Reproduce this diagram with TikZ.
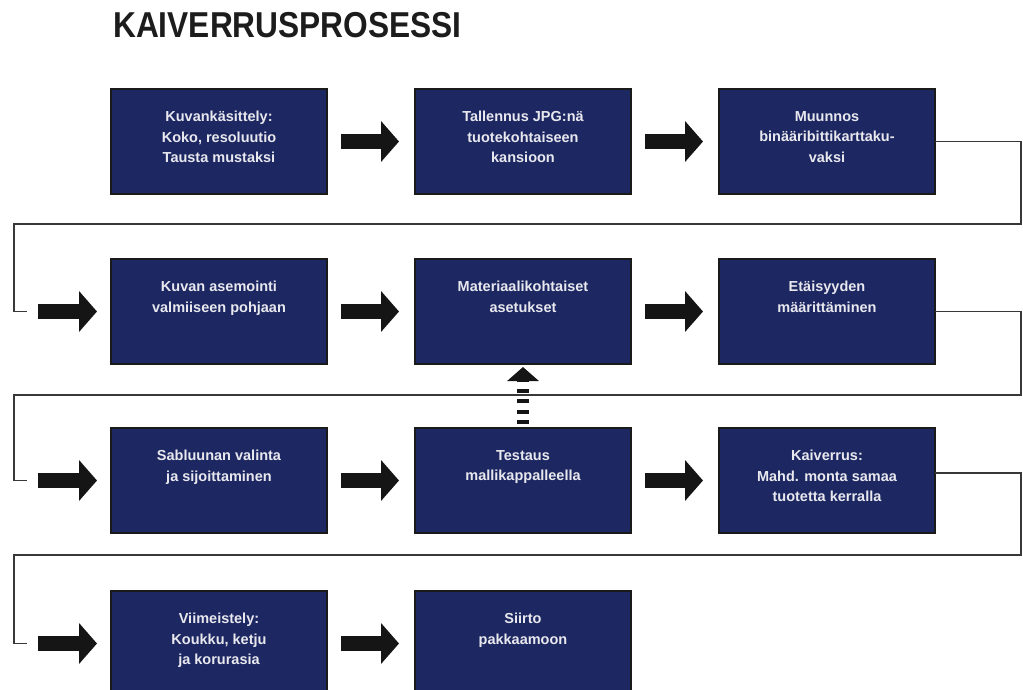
\documentclass[tikz,border=0pt]{standalone}
\usepackage{fontspec}
\setmainfont{Liberation Sans}
\usetikzlibrary{arrows.meta}
\definecolor{navy}{HTML}{1D2862}
\definecolor{boxline}{HTML}{1A1A1A}
\definecolor{boxtxt}{HTML}{E8E8EE}
\definecolor{arrowblack}{HTML}{151515}
\definecolor{wiregray}{HTML}{383838}
\definecolor{titlegray}{HTML}{1C1C1C}

\begin{document}
\begin{tikzpicture}[x=1pt,y=-1pt,
    box/.style={draw=boxline,line width=2pt,fill=navy,minimum width=216pt,minimum height=105pt,inner sep=0pt,outer sep=0pt},
    boxtext/.style={anchor=north,inner sep=0pt,text=boxtxt,align=center,font=\fontsize{14.5}{20.5}\selectfont\bfseries},
    flowarrow/.style={draw=arrowblack,line width=15pt,-{Triangle[length=18pt,width=40pt]}},
    uparrow/.style={draw=arrowblack,line width=12pt,dash pattern=on 4pt off 6.5pt,-{Triangle[length=14pt,width=31pt]}},
    wire/.style={draw=wiregray,line width=1.8pt}]
    \useasboundingbox (0,0) rectangle (1023,689);
    %\draw[very thin,color=gray] (0,0) grid[step=50] (1023,689);
    \node[anchor=west,inner sep=0pt,text=titlegray,font=\fontsize{36}{40}\selectfont\bfseries] (ttl) at (113,25) {\scalebox{0.88}[1]{KAIVERRUSPROSESSI}};

    % boxes
    \node[box] (b1) at (219,141.5) {};
    \node[box] (b2) at (523,141.5) {};
    \node[box] (b3) at (827,141.5) {};
    \node[box] (b4) at (219,311.5) {};
    \node[box] (b5) at (523,311.5) {};
    \node[box] (b6) at (827,311.5) {};
    \node[box] (b7) at (219,480.5) {};
    \node[box] (b8) at (523,480.5) {};
    \node[box] (b9) at (827,480.5) {};
    \node[box] (b10) at (219,643.5) {};
    \node[box] (b11) at (523,643.5) {};

    % texts
    \node[boxtext] (t1) at ([yshift=-22pt]b1.north) {Kuvankäsittely:\\Koko, resoluutio\\Tausta mustaksi};
    \node[boxtext] (t2) at ([yshift=-22pt]b2.north) {Tallennus JPG:nä\\tuotekohtaiseen\\kansioon};
    \node[boxtext] (t3) at ([yshift=-22pt]b3.north) {Muunnos\\binääribittikarttaku-\\vaksi};
    \node[boxtext] (t4) at ([yshift=-22pt]b4.north) {Kuvan asemointi\\valmiiseen pohjaan};
    \node[boxtext] (t5) at ([yshift=-22pt]b5.north) {Materiaalikohtaiset\\asetukset};
    \node[boxtext] (t6) at ([yshift=-22pt]b6.north) {Etäisyyden\\määrittäminen};
    \node[boxtext] (t7) at ([yshift=-22pt]b7.north) {Sabluunan valinta\\ja sijoittaminen};
    \node[boxtext] (t8) at ([yshift=-22pt]b8.north) {Testaus\\mallikappalleella};
    \node[boxtext] (t9) at ([yshift=-22pt]b9.north) {Kaiverrus:\\Mahd. monta samaa\\tuotetta kerralla};
    \node[boxtext] (t10) at ([yshift=-22pt]b10.north) {Viimeistely:\\Koukku, ketju\\ja korurasia};
    \node[boxtext] (t11) at ([yshift=-22pt]b11.north) {Siirto\\pakkaamoon};

    % wires between rows
    \coordinate (e4) at ([xshift=-84pt]b4.west);
    \coordinate (e7) at ([xshift=-84pt]b7.west);
    \coordinate (e10) at ([xshift=-84pt]b10.west);
    \draw[wire] (b3.east) -| (1021,224) -| (14,311.5) -- (e4);
    \draw[wire] (b6.east) -| (1021,395) -| (14,480.5) -- (e7);
    \draw[wire] ([yshift=7.5pt]b9.east) -| (1021,555) -| (14,643.5) -- (e10);

    % arrows
    \draw[flowarrow] ([xshift=14pt]b1.east) -- ([xshift=-16pt]b2.west);
    \draw[flowarrow] ([xshift=14pt]b2.east) -- ([xshift=-16pt]b3.west);
    \draw[flowarrow] ([xshift=-73pt]b4.west) -- ([xshift=-14pt]b4.west);
    \draw[flowarrow] ([xshift=14pt]b4.east) -- ([xshift=-16pt]b5.west);
    \draw[flowarrow] ([xshift=14pt]b5.east) -- ([xshift=-16pt]b6.west);
    \draw[flowarrow] ([xshift=-73pt]b7.west) -- ([xshift=-14pt]b7.west);
    \draw[flowarrow] ([xshift=14pt]b7.east) -- ([xshift=-16pt]b8.west);
    \draw[flowarrow] ([xshift=14pt]b8.east) -- ([xshift=-16pt]b9.west);
    \draw[flowarrow] ([xshift=-73pt]b10.west) -- ([xshift=-14pt]b10.west);
    \draw[flowarrow] ([xshift=14pt]b10.east) -- ([xshift=-16pt]b11.west);
    \draw[uparrow] ([yshift=4pt]b8.north) -- ([yshift=-3pt]b5.south);
\end{tikzpicture}
\end{document}
